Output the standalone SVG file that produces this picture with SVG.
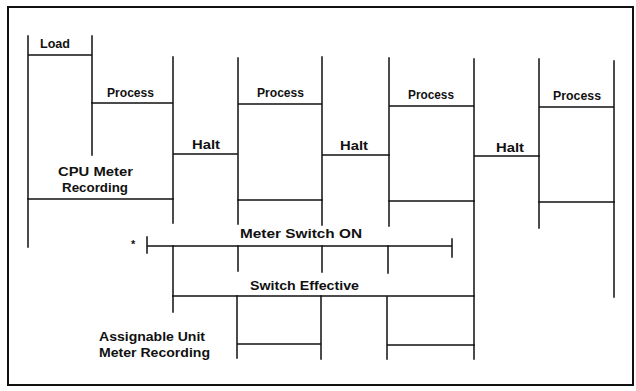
<svg xmlns="http://www.w3.org/2000/svg" width="636" height="391" viewBox="0 0 636 391">
<style>
.ln{stroke:#111;stroke-width:1.5;fill:none;stroke-linecap:square}
.t{font-family:"Liberation Sans",Arial,sans-serif;font-size:13px;font-weight:bold;fill:#111}
</style>
<rect width="636" height="391" fill="#fff"/>
<rect x="8" y="7" width="625" height="378" fill="none" stroke="#111" stroke-width="2"/>
<g id="connectors" class="ln">
<path d="M28 36V247M28 55H92M92 36V155"/>
<path d="M92 103H173M173 57V223M173 154H237"/>
<path d="M238 58V224M238 104H322M322 57V225M322 155H389"/>
<path d="M389 58V226M389 106H474M474 59V359M474 156H539"/>
<path d="M539 59V228M539 107H614M614 61V297"/>
<path d="M28 199H173M238 200H322M389 201H474M539 202H614"/>
<path d="M147 246H452M147 237V253M452 239V257"/>
<path d="M173 246V312M238 246V271M322 246V272M388 246V273"/>
<path d="M173 296H474"/>
<path d="M237 296V358M237 344H321M321 296V359"/>
<path d="M387 297V359M387 345H474"/>
</g>
<g id="load"><text class="t" x="40" y="48" textLength="30" lengthAdjust="spacingAndGlyphs">Load</text></g>
<g id="process1"><text class="t" x="107" y="97" textLength="47" lengthAdjust="spacingAndGlyphs">Process</text></g>
<g id="process2"><text class="t" x="257" y="97" textLength="47" lengthAdjust="spacingAndGlyphs">Process</text></g>
<g id="process3"><text class="t" x="408" y="99" textLength="46" lengthAdjust="spacingAndGlyphs">Process</text></g>
<g id="process4"><text class="t" x="553" y="100" textLength="48" lengthAdjust="spacingAndGlyphs">Process</text></g>
<g id="halt1"><text class="t" x="192" y="149" textLength="28" lengthAdjust="spacingAndGlyphs">Halt</text></g>
<g id="halt2"><text class="t" x="340" y="150" textLength="28" lengthAdjust="spacingAndGlyphs">Halt</text></g>
<g id="halt3"><text class="t" x="496" y="152" textLength="28" lengthAdjust="spacingAndGlyphs">Halt</text></g>
<g id="cpu-meter"><text class="t" x="58" y="176" textLength="75" lengthAdjust="spacingAndGlyphs">CPU Meter</text><text class="t" x="62" y="192" textLength="66" lengthAdjust="spacingAndGlyphs">Recording</text></g>
<g id="meter-switch"><text class="t" x="131" y="248" style="font-size:11px">*</text><text class="t" x="240" y="238" textLength="122" lengthAdjust="spacingAndGlyphs">Meter Switch ON</text></g>
<g id="switch-effective"><text class="t" x="250" y="290" textLength="109" lengthAdjust="spacingAndGlyphs">Switch Effective</text></g>
<g id="au-meter"><text class="t" x="99" y="341" textLength="106" lengthAdjust="spacingAndGlyphs">Assignable Unit</text><text class="t" x="99" y="357" textLength="111" lengthAdjust="spacingAndGlyphs">Meter Recording</text></g>
</svg>
